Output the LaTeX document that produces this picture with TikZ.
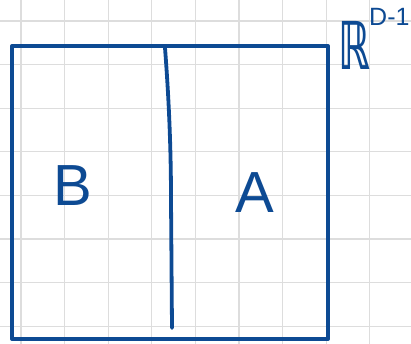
\documentclass[tikz,border=0pt]{standalone}
\usepackage{graphicx}
\usepackage{fontspec}
\setmainfont{Liberation Sans}
\newfontfamily\dejavu{DejaVu Sans}
\definecolor{ink}{HTML}{0D4A93}
\definecolor{gridc}{HTML}{DDDDDD}
\begin{document}
\begin{tikzpicture}[x=1pt,y=-1pt,
  inkline/.style={draw=ink,line width=4pt,line cap=round,line join=round},
  gridline/.style={draw=gridc,line width=1.2pt},
  lbl/.style={text=ink,font=\fontsize{58}{60}\selectfont,inner sep=0pt}]
\useasboundingbox (0,0) rectangle (411,344);
\clip (0,0) rectangle (411,344);
\foreach \i in {0,...,9} {
  \draw[gridline] ({21+43.6*\i},0) -- ({21+43.6*\i},344);
}
\foreach \j in {0,...,7} {
  \draw[gridline] (0,{21+43.6*\j}) -- (411,{21+43.6*\j});
}
\draw[inkline] (12,46) rectangle (328,339);
\draw[inkline,line width=3.8pt] (165,48) .. controls (169,100) and (171,150) .. (171,200) -- (172,328);
\node[lbl] (B) at (73,186) {B};
\node[lbl] (A) at (255,193) {A};
\node[text=ink,inner sep=0pt,anchor=base west] (R) at (338,70) {\scalebox{0.6}[1]{\fontsize{66}{66}\selectfont\dejavu\bfseries ℝ}};
\node[text=ink,inner sep=0pt,anchor=base west,font=\fontsize{25}{25}\selectfont] (S) at (369,26) {D-1};
\end{tikzpicture}
\end{document}
